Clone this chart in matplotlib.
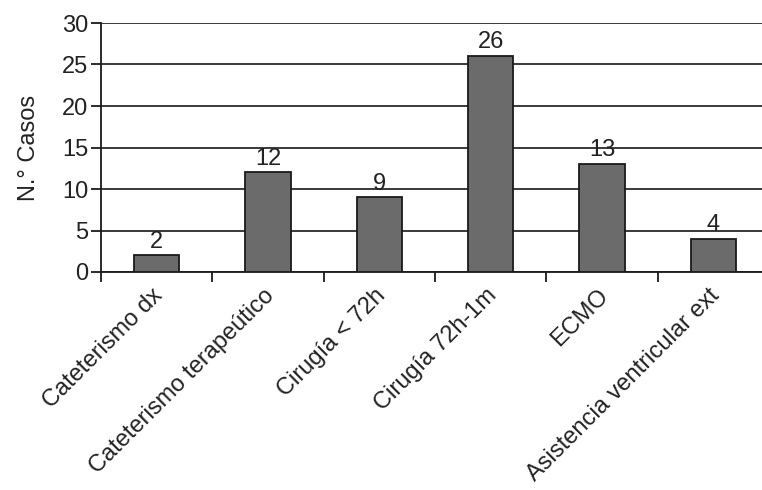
import matplotlib
matplotlib.use("Agg")
import matplotlib.pyplot as plt
import matplotlib.transforms as mtransforms

categories = ["Cateterismo dx", "Cateterismo terapeútico", "Cirugía < 72h",
              "Cirugía 72h-1m", "ECMO", "Asistencia ventricular ext"]
values = [2, 12, 9, 26, 13, 4]
yticks = [0, 5, 10, 15, 20, 25, 30]

plt.rcParams['font.family'] = ['Liberation Sans', 'DejaVu Sans']
FS = 17

fig = plt.figure(figsize=(7.62, 4.90), dpi=100)
ax = fig.add_axes([101/762, 1 - 272/490, (769 - 101)/762, (272 - 23)/490])

x = list(range(len(categories)))
ax.set_axisbelow(True)
ax.yaxis.grid(True, color='#2a2a2a', linewidth=1.3)
bars = ax.bar(x, values, width=0.41, color='#6b6b6b', edgecolor='#1a1a1a', linewidth=1.3, zorder=3)
for xi, v in zip(x, values):
    ax.annotate(str(v), (xi, v), xytext=(0, 2), textcoords='offset points',
                ha='center', va='bottom', fontsize=FS, color='#222222')

ax.set_xlim(-0.5, len(categories) - 0.5)
ax.set_ylim(0, 30)
ax.set_yticks(yticks)
ax.set_yticklabels([str(t) for t in yticks], fontsize=FS, color='#222222')
ax.tick_params(axis='y', length=7, width=1.3, pad=2, color='#1a1a1a')

# category ticks at boundaries
ax.set_xticks([i + 0.5 for i in range(-1, len(categories))], minor=False)
ax.set_xticklabels([])
ax.tick_params(axis='x', which='major', length=7, width=1.3, color='#1a1a1a')
ax.set_xticks(x, minor=True)
ax.set_xticklabels(categories, minor=True, rotation=45, ha='right',
                   rotation_mode='anchor', fontsize=17, color='#222222')
ax.tick_params(axis='x', which='minor', length=0, pad=9)
offset = mtransforms.ScaledTranslation(-5/100, 0, fig.dpi_scale_trans)
for lbl in ax.get_xticklabels(minor=True):
    lbl.set_transform(lbl.get_transform() + offset)

for s in ['top', 'right']:
    ax.spines[s].set_visible(False)
ax.spines['left'].set_linewidth(1.3)
ax.spines['bottom'].set_linewidth(1.3)
ax.spines['left'].set_color('#1a1a1a')
ax.spines['bottom'].set_color('#1a1a1a')

ax.set_ylabel("N.° Casos", fontsize=FS, color='#222222', labelpad=16)

fig.savefig("out.png", dpi=100)
